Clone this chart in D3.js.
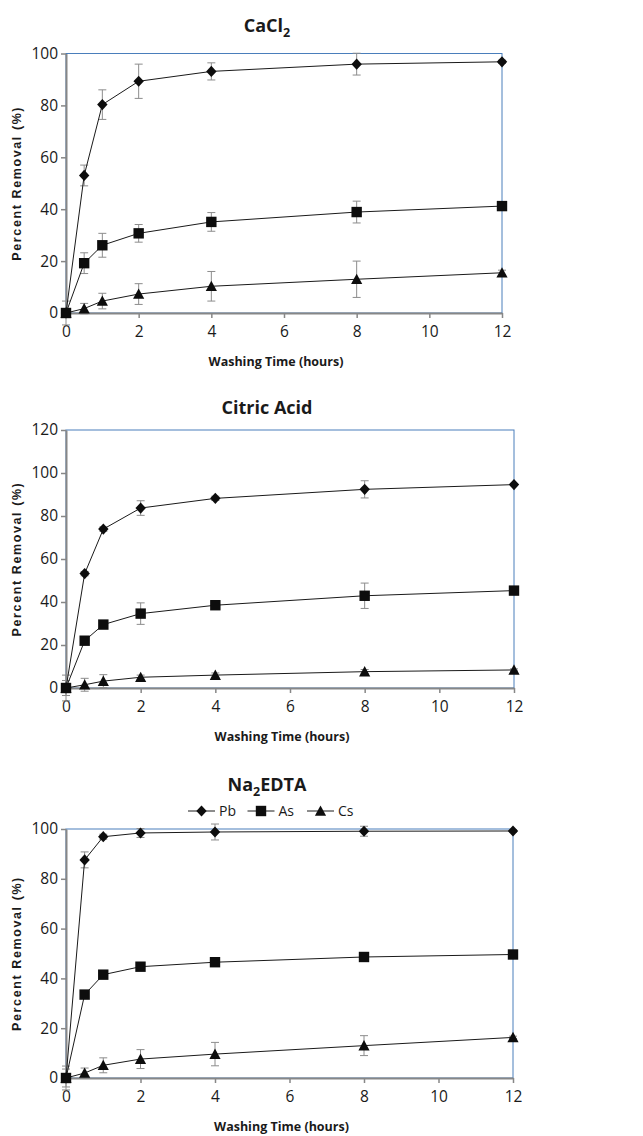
<!DOCTYPE html>
<html>
<head>
<meta charset="utf-8">
<script src="https://cdn.jsdelivr.net/npm/d3@7"></script>
<style>
  body { margin: 0; background: #fff; }
  text { font-family: "Open Sans", sans-serif; fill: #1a1a1a; }
</style>
</head>
<body>
<svg width="643" height="1136"></svg>
<script>
var hours = [0, 0.5, 1, 2, 4, 8, 12];
var xTicks = [0, 2, 4, 6, 8, 10, 12];
var metals = ["Pb", "As", "Cs"];

// CaCl2
var cacl2Pb    = [0, 53, 80.3, 89.3, 93.1, 95.9, 96.8];
var cacl2PbErr = [0, 4, 5.7, 6.6, 3.3, 4.2, 0.6];
var cacl2As    = [0, 19.2, 26.1, 30.7, 35.1, 38.9, 41.2];
var cacl2AsErr = [4.6, 4, 4.6, 3.4, 3.6, 4.2, 1];
var cacl2Cs    = [0, 1.7, 4.6, 7.3, 10.3, 13, 15.5];
var cacl2CsErr = [0, 2, 3, 4, 5.7, 7, 1];

// citric acid
var citricPb    = [0, 53.2, 73.9, 83.7, 88.2, 92.4, 94.6];
var citricPbErr = [3.5, 1, 1, 3.4, 1, 4, 0.5];
var citricAs    = [0, 22, 29.5, 34.6, 38.5, 42.9, 45.3];
var citricAsErr = [6, 1, 1, 5, 1, 5.9, 0.5];
var citricCs    = [0, 1.5, 3.2, 5, 6, 7.6, 8.4];
var citricCsErr = [0, 3, 3, 1, 1, 1, 0.5];

// Na2EDTA
var edtaPb    = [0, 87.6, 96.9, 98.4, 98.8, 99.1, 99.2];
var edtaPbErr = [3.6, 3.2, 1, 1.8, 3.2, 2, 0.5];
var edtaAs    = [0, 33.5, 41.5, 44.7, 46.5, 48.6, 49.6];
var edtaAsErr = [4.8, 1, 1, 1, 1, 1, 1];
var edtaCs    = [0, 2, 5.1, 7.6, 9.6, 13, 16.3];
var edtaCsErr = [0, 2, 3, 3.8, 4.7, 4, 0.5];

var svg = d3.select("svg");

var markers = {
  Pb: "M0,-5.6L5.2,0L0,5.6L-5.2,0Z",
  As: "M-5.2,-5.2h10.4v10.4h-10.4Z",
  Cs: "M0,-5.6L5.6,4.8L-5.6,4.8Z"
};

var panels = [
  { title: [["CaCl", 0], ["2", 1]], titleY: 32, top: 53.5, bottom: 313, right: 502,
    yMax: 100, yTicks: [0, 20, 40, 60, 80, 100],
    series: [[cacl2Pb, cacl2PbErr], [cacl2As, cacl2AsErr], [cacl2Cs, cacl2CsErr]] },
  { title: [["Citric Acid", 0]], titleY: 414, top: 430, bottom: 688, right: 514,
    yMax: 120, yTicks: [0, 20, 40, 60, 80, 100, 120],
    series: [[citricPb, citricPbErr], [citricAs, citricAsErr], [citricCs, citricCsErr]] },
  { title: [["Na", 0], ["2", 1], ["EDTA", 0]], titleY: 791, top: 829, bottom: 1078, right: 513,
    yMax: 100, yTicks: [0, 20, 40, 60, 80, 100], legendY: 811,
    series: [[edtaPb, edtaPbErr], [edtaAs, edtaAsErr], [edtaCs, edtaCsErr]] }
];

var left = 66;

panels.forEach(function(p) {
  var x = d3.scaleLinear().domain([0, 12]).range([left, p.right]);
  var y = d3.scaleLinear().domain([0, p.yMax]).range([p.bottom, p.top]);
  var g = svg.append("g");

  // title with subscript
  var t = g.append("text")
      .attr("x", 267)
      .attr("y", p.titleY)
      .attr("text-anchor", "middle")
      .style("font-size", "18px")
      .style("font-weight", "bold");
  var shifted = false;
  p.title.forEach(function(part) {
    var ts = t.append("tspan").text(part[0]);
    if (part[1]) { ts.attr("dy", 5).style("font-size", "12.5px"); shifted = true; }
    else if (shifted) { ts.attr("dy", -5); shifted = false; }
  });

  // plot border (blue) then axes (gray)
  g.append("rect")
      .attr("x", left).attr("y", p.top)
      .attr("width", p.right - left).attr("height", p.bottom - p.top)
      .attr("fill", "none").attr("stroke", "#4a7ebb").attr("stroke-width", 1);

  var xAxis = g.append("g")
      .attr("transform", "translate(0," + p.bottom + ")")
      .call(d3.axisBottom(x).tickValues(xTicks).tickSize(5).tickSizeOuter(0).tickPadding(8));
  var yAxis = g.append("g")
      .attr("transform", "translate(" + left + ",0)")
      .call(d3.axisLeft(y).tickValues(p.yTicks).tickSize(5).tickSizeOuter(0).tickPadding(3));
  [xAxis, yAxis].forEach(function(a) {
    a.select(".domain").attr("stroke", "#878787").attr("stroke-width", 2);
    a.selectAll(".tick line").attr("stroke", "#878787").attr("stroke-width", 1.5);
    a.selectAll(".tick text").style("font-size", "15.5px").style("font-family", "'Open Sans', sans-serif").attr("fill", "#1a1a1a");
  });

  g.append("text")
      .attr("x", (left + p.right) / 2 - 8)
      .attr("y", p.bottom + 53)
      .attr("text-anchor", "middle")
      .style("font-size", "12.5px")
      .style("font-weight", "bold")
      .text("Washing Time (hours)");

  g.append("text")
      .attr("transform", "translate(21," + ((p.top + p.bottom) / 2) + ") rotate(-90)")
      .attr("text-anchor", "middle")
      .style("font-family", "'Liberation Sans', Arial, sans-serif")
      .style("font-size", "12.5px")
      .style("font-weight", "bold")
      .style("letter-spacing", "1.6px")
      .text("Percent Removal (%)");

  var line = d3.line()
      .x(function(d, i) { return x(hours[i]); })
      .y(function(d) { return y(d); });

  p.series.forEach(function(s, k) {
    var vals = s[0], errs = s[1];
    var eb = g.append("g").attr("stroke", "#8c8c8c").attr("stroke-width", 1);
    vals.forEach(function(v, i) {
      var cx = x(hours[i]), y1 = y(v + errs[i]), y2 = y(v - errs[i]);
      eb.append("line").attr("x1", cx).attr("x2", cx).attr("y1", y1).attr("y2", y2);
      eb.append("line").attr("x1", cx - 4).attr("x2", cx + 4).attr("y1", y1).attr("y2", y1);
      eb.append("line").attr("x1", cx - 4).attr("x2", cx + 4).attr("y1", y2).attr("y2", y2);
    });
  });

  p.series.forEach(function(s, k) {
    g.append("path")
        .datum(s[0])
        .attr("d", line)
        .attr("fill", "none")
        .attr("stroke", "#1a1a1a")
        .attr("stroke-width", 1);
  });

  p.series.forEach(function(s, k) {
    g.append("g").selectAll("path")
      .data(s[0])
      .enter().append("path")
        .attr("transform", function(d, i) { return "translate(" + x(hours[i]) + "," + y(d) + ")"; })
        .attr("d", markers[metals[k]])
        .attr("fill", "#0d0d0d");
  });

  if (p.legendY) {
    var lg = g.append("g").attr("transform", "translate(188," + p.legendY + ")");
    var item = lg.selectAll("g").data(metals).enter().append("g")
        .attr("transform", function(d, i) { return "translate(" + (i * 59.5) + ",0)"; });
    item.append("line").attr("x1", 0).attr("x2", 27).attr("stroke", "#1a1a1a").attr("stroke-width", 1);
    item.append("path")
        .attr("transform", "translate(13.5,0)")
        .attr("d", function(d) { return markers[d]; })
        .attr("fill", "#0d0d0d");
    item.append("text")
        .attr("x", 31).attr("dy", "0.35em")
        .style("font-size", "14px")
        .text(function(d) { return d; });
  }
});
</script>
</body>
</html>
